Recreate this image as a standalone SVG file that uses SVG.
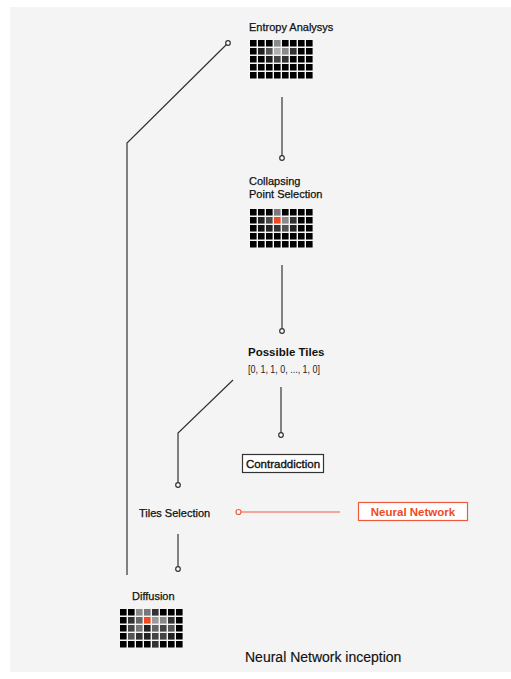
<svg xmlns="http://www.w3.org/2000/svg" width="511" height="679" viewBox="0 0 511 679">
<style>
.t{font-family:"Liberation Sans",Arial,sans-serif;font-size:11px;fill:#111;stroke:#111;stroke-width:0.25}
.b{font-weight:bold;stroke-width:0}
.ln{stroke:#333;stroke-width:1.2;fill:none}
.dot{fill:#fff;stroke:#333;stroke-width:1.2}
.or{stroke:#f05a3c;stroke-width:1.2;fill:none}
</style>
<rect x="10" y="7" width="501" height="665" fill="#f4f4f4"/>
<g id="connectors">
<polyline class="ln" points="228,43 127,143 127,575"/>
<circle class="dot" cx="228" cy="43" r="2.3"/>
<line class="ln" x1="282" y1="97" x2="282" y2="156"/>
<circle class="dot" cx="282" cy="158" r="2.3"/>
<line class="ln" x1="282" y1="265" x2="282" y2="329"/>
<circle class="dot" cx="282" cy="331" r="2.3"/>
<polyline class="ln" points="233,380 178,433 178,483"/>
<circle class="dot" cx="178" cy="485" r="2.3"/>
<line class="ln" x1="281" y1="387" x2="281" y2="433"/>
<circle class="dot" cx="281" cy="435" r="2.3"/>
<line class="ln" x1="178" y1="534" x2="178" y2="567"/>
<circle class="dot" cx="178" cy="569" r="2.3"/>
<line class="or" x1="241" y1="512" x2="340" y2="512"/>
<circle cx="238.5" cy="512" r="2.5" fill="#fff" stroke="#f05a3c" stroke-width="1.2"/>
</g>
<g id="entropy">
<text class="t" x="249" y="31">Entropy Analysys</text>
<g transform="translate(250,40)">
<path fill="#000" d="M0,0h6.6v6.6h-6.6zM8,0h6.6v6.6h-6.6zM16,0h6.6v6.6h-6.6zM32,0h6.6v6.6h-6.6zM40,0h6.6v6.6h-6.6zM48,0h6.6v6.6h-6.6zM56,0h6.6v6.6h-6.6zM0,8h6.6v6.6h-6.6zM48,8h6.6v6.6h-6.6zM56,8h6.6v6.6h-6.6zM0,16h6.6v6.6h-6.6zM8,16h6.6v6.6h-6.6zM40,16h6.6v6.6h-6.6zM48,16h6.6v6.6h-6.6zM56,16h6.6v6.6h-6.6z"/>
<rect x="24" y="0" width="6.6" height="6.6" fill="#8a8a8a"/>
<rect x="8" y="8" width="6.6" height="6.6" fill="#222"/>
<rect x="16" y="8" width="6.6" height="6.6" fill="#555"/>
<rect x="24" y="8" width="6.6" height="6.6" fill="#b0b0b0"/>
<rect x="32" y="8" width="6.6" height="6.6" fill="#8a8a8a"/>
<rect x="40" y="8" width="6.6" height="6.6" fill="#333"/>
<rect x="16" y="16" width="6.6" height="6.6" fill="#1c1c1c"/>
<rect x="24" y="16" width="6.6" height="6.6" fill="#444"/>
<rect x="32" y="16" width="6.6" height="6.6" fill="#333"/>
<path fill="#000" d="M0,24h6.6v6.6h-6.6zM8,24h6.6v6.6h-6.6zM16,24h6.6v6.6h-6.6zM24,24h6.6v6.6h-6.6zM32,24h6.6v6.6h-6.6zM40,24h6.6v6.6h-6.6zM48,24h6.6v6.6h-6.6zM56,24h6.6v6.6h-6.6zM0,32h6.6v6.6h-6.6zM8,32h6.6v6.6h-6.6zM16,32h6.6v6.6h-6.6zM24,32h6.6v6.6h-6.6zM32,32h6.6v6.6h-6.6zM40,32h6.6v6.6h-6.6zM48,32h6.6v6.6h-6.6zM56,32h6.6v6.6h-6.6z"/>
</g>
</g>
<g id="collapsing">
<text class="t" x="249" y="185">Collapsing</text>
<text class="t" x="249" y="198">Point Selection</text>
<g transform="translate(250,209)">
<path fill="#000" d="M0,0h6.6v6.6h-6.6zM8,0h6.6v6.6h-6.6zM16,0h6.6v6.6h-6.6zM32,0h6.6v6.6h-6.6zM40,0h6.6v6.6h-6.6zM48,0h6.6v6.6h-6.6zM56,0h6.6v6.6h-6.6zM0,8h6.6v6.6h-6.6zM48,8h6.6v6.6h-6.6zM56,8h6.6v6.6h-6.6zM0,16h6.6v6.6h-6.6zM48,16h6.6v6.6h-6.6zM56,16h6.6v6.6h-6.6z"/>
<rect x="24" y="0" width="6.6" height="6.6" fill="#7a7a7a"/>
<rect x="8" y="8" width="6.6" height="6.6" fill="#222"/>
<rect x="16" y="8" width="6.6" height="6.6" fill="#4a4a4a"/>
<rect x="24" y="8" width="6.6" height="6.6" fill="#f04a23"/>
<rect x="32" y="8" width="6.6" height="6.6" fill="#8a8a8a"/>
<rect x="40" y="8" width="6.6" height="6.6" fill="#333"/>
<rect x="8" y="16" width="6.6" height="6.6" fill="#111"/>
<rect x="16" y="16" width="6.6" height="6.6" fill="#222"/>
<rect x="24" y="16" width="6.6" height="6.6" fill="#333"/>
<rect x="32" y="16" width="6.6" height="6.6" fill="#555"/>
<rect x="40" y="16" width="6.6" height="6.6" fill="#222"/>
<path fill="#000" d="M0,24h6.6v6.6h-6.6zM8,24h6.6v6.6h-6.6zM16,24h6.6v6.6h-6.6zM24,24h6.6v6.6h-6.6zM32,24h6.6v6.6h-6.6zM40,24h6.6v6.6h-6.6zM48,24h6.6v6.6h-6.6zM56,24h6.6v6.6h-6.6zM0,32h6.6v6.6h-6.6zM8,32h6.6v6.6h-6.6zM16,32h6.6v6.6h-6.6zM24,32h6.6v6.6h-6.6zM32,32h6.6v6.6h-6.6zM40,32h6.6v6.6h-6.6zM48,32h6.6v6.6h-6.6zM56,32h6.6v6.6h-6.6z"/>
</g>
</g>
<g id="possible-tiles">
<text class="t b" x="248" y="356" style="font-size:11.5px">Possible Tiles</text>
<text class="t" x="248" y="373" textLength="72" lengthAdjust="spacingAndGlyphs" style="font-size:10.5px;stroke-width:0;fill:#222">[0, 1, 1, 0, ..., 1, 0]</text>
</g>
<g id="contradiction">
<rect x="242.5" y="454.5" width="81" height="18" fill="#fff" stroke="#333" stroke-width="1.2"/>
<text class="t" x="283" y="467.5" text-anchor="middle" style="font-size:11.5px;stroke-width:0.35">Contraddiction</text>
</g>
<g id="tiles-selection">
<text class="t" x="139" y="517">Tiles Selection</text>
</g>
<g id="neural-network">
<rect x="358.5" y="502.5" width="109" height="18" fill="#fff" stroke="#f05a3c" stroke-width="1.2"/>
<text class="t b" x="413" y="516" text-anchor="middle" style="fill:#f04a23;font-size:11.5px">Neural Network</text>
</g>
<g id="diffusion">
<text class="t" x="132" y="600">Diffusion</text>
<g transform="translate(120,609)">
<path fill="#000" d="M0,0h6.6v6.6h-6.6zM8,0h6.6v6.6h-6.6zM40,0h6.6v6.6h-6.6zM48,0h6.6v6.6h-6.6zM56,0h6.6v6.6h-6.6zM0,8h6.6v6.6h-6.6zM56,8h6.6v6.6h-6.6zM0,16h6.6v6.6h-6.6zM56,16h6.6v6.6h-6.6zM0,24h6.6v6.6h-6.6zM56,24h6.6v6.6h-6.6zM0,32h6.6v6.6h-6.6zM8,32h6.6v6.6h-6.6zM16,32h6.6v6.6h-6.6zM24,32h6.6v6.6h-6.6zM40,32h6.6v6.6h-6.6zM48,32h6.6v6.6h-6.6zM56,32h6.6v6.6h-6.6z"/>
<rect x="16" y="0" width="6.6" height="6.6" fill="#8a8a8a"/>
<rect x="24" y="0" width="6.6" height="6.6" fill="#777"/>
<rect x="32" y="0" width="6.6" height="6.6" fill="#333"/>
<rect x="8" y="8" width="6.6" height="6.6" fill="#333"/>
<rect x="16" y="8" width="6.6" height="6.6" fill="#666"/>
<rect x="24" y="8" width="6.6" height="6.6" fill="#f04a23"/>
<rect x="32" y="8" width="6.6" height="6.6" fill="#9a9a9a"/>
<rect x="40" y="8" width="6.6" height="6.6" fill="#888"/>
<rect x="48" y="8" width="6.6" height="6.6" fill="#333"/>
<rect x="8" y="16" width="6.6" height="6.6" fill="#444"/>
<rect x="16" y="16" width="6.6" height="6.6" fill="#777"/>
<rect x="24" y="16" width="6.6" height="6.6" fill="#222"/>
<rect x="32" y="16" width="6.6" height="6.6" fill="#666"/>
<rect x="40" y="16" width="6.6" height="6.6" fill="#444"/>
<rect x="48" y="16" width="6.6" height="6.6" fill="#555"/>
<rect x="8" y="24" width="6.6" height="6.6" fill="#555"/>
<rect x="16" y="24" width="6.6" height="6.6" fill="#333"/>
<rect x="24" y="24" width="6.6" height="6.6" fill="#222"/>
<rect x="32" y="24" width="6.6" height="6.6" fill="#444"/>
<rect x="40" y="24" width="6.6" height="6.6" fill="#444"/>
<rect x="48" y="24" width="6.6" height="6.6" fill="#222"/>
<rect x="32" y="32" width="6.6" height="6.6" fill="#333"/>
</g>
</g>
<g id="caption">
<text class="t" x="245" y="662" style="font-size:14px;stroke-width:0.15">Neural Network inception</text>
</g>
</svg>
